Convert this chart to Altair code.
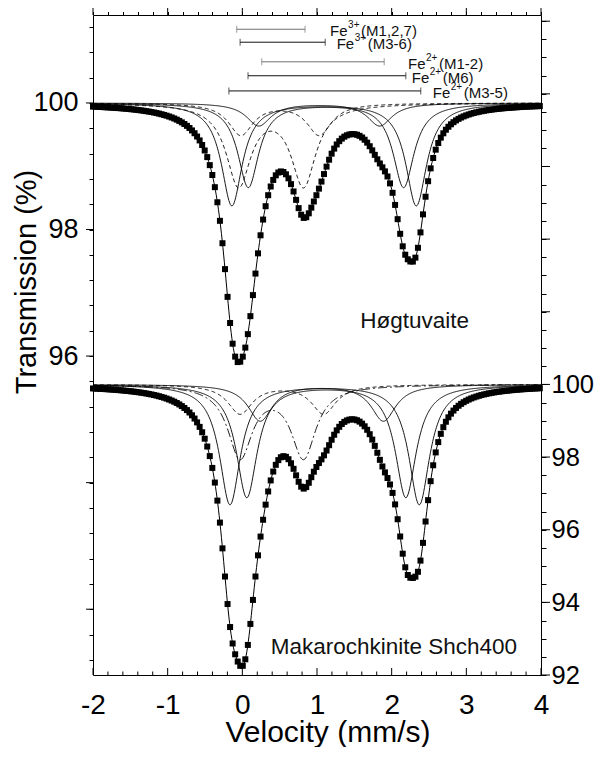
import altair as alt
import numpy as np
import pandas as pd

FONT = "Liberation Sans, Arial, sans-serif"

# ---- Lorentzian doublet parameters ----
comp_names = ["Fe3+ (M1,2,7)", "Fe3+ (M3-6)", "Fe2+ (M3-5)", "Fe2+ (M6)", "Fe2+ (M1-2)"]

top_baseline = 100.0
top_line1 = [-0.05, -0.02, -0.14, 0.08, 0.22]
top_line2 = [0.82, 1.03, 2.33, 2.16, 1.84]
top_depth = [1.28, 0.50, 1.62, 1.33, 0.36]
top_hwhm = [0.20, 0.20, 0.17, 0.17, 0.20]
top_style = ["dash", "dash", "solid", "solid", "solid"]

bot_baseline = 100.0
bot_line1 = [-0.03, -0.03, -0.165, 0.06, 0.24]
bot_line2 = [0.82, 1.09, 2.37, 2.19, 1.89]
bot_depth = [1.97, 0.80, 3.30, 3.10, 1.00]
bot_hwhm = [0.20, 0.20, 0.17, 0.17, 0.20]
bot_style = ["dashdot", "dash", "solid", "solid", "solid"]

channel_step = 0.034   # spacing of the measured points (mm/s)
curve_step = 0.01

# ---- quadrupole-splitting bars at the top ----
bar_start = [-0.075, -0.03, 0.26, 0.076, -0.18]
bar_end = [0.84, 1.11, 1.90, 2.19, 2.39]
bar_level = [101.165, 100.96, 100.65, 100.43, 100.19]
bar_color = ["#707070", "#111111", "#707070", "#111111", "#111111"]
bar_ion = ["Fe", "Fe", "Fe", "Fe", "Fe"]
bar_charge = ["3+", "3+", "2+", "2+", "2+"]
bar_site = ["(M1,2,7)", "(M3-6)", "(M1-2)", "(M6)", "(M3-5)"]
label_at = [1.175, 1.264, 2.219, 2.269, 2.55]

# ---- sample names ----
top_name = "Høgtuvaite"
top_name_pos = (1.58, 96.44)
bot_name = "Makarochkinite Shch400"
bot_name_pos = (0.38, 92.59)

# ---- tick values ----
x_vals = [round(-2 + 0.2 * i, 1) for i in range(31)]
x_major = [v for v in x_vals if abs(v - round(v)) < 1e-6]
x_minor = [v for v in x_vals if abs(v - round(v)) >= 1e-6]
yl_vals = [round(91.2 + 0.4 * i, 1) for i in range(26)]
yl_major = [92, 94, 96, 98, 100]
yr_vals = [round(92 + 0.5 * i, 1) for i in range(37)]
yr_major = [92, 94, 96, 98, 100, 102, 104, 106, 108, 110]


def lor(v, c, hw):
    return 1.0 / (1.0 + ((v - c) / hw) ** 2)


def build(base, l1, l2, dep, hw, style):
    vf = np.round(np.arange(-2.0, 4.0 + 1e-9, curve_step), 3)
    vc = np.round(np.arange(-2.0, 4.0 + 1e-9, channel_step), 3)
    comps = []
    tot_f = np.zeros_like(vf)
    tot_c = np.zeros_like(vc)
    for i in range(len(l1)):
        a = dep[i] * (lor(vf, l1[i], hw[i]) + lor(vf, l2[i], hw[i]))
        tot_f += a
        tot_c += dep[i] * (lor(vc, l1[i], hw[i]) + lor(vc, l2[i], hw[i]))
        comps.append(pd.DataFrame({"v": vf, "T": base - a, "comp": comp_names[i], "style": style[i]}))
    comp_df = pd.concat(comps, ignore_index=True)
    fit_df = pd.DataFrame({"v": vf, "T": base - tot_f})
    pts_df = pd.DataFrame({"v": vc, "T": base - tot_c})
    return comp_df, fit_df, pts_df


ctop, ftop, ptop = build(top_baseline, top_line1, top_line2, top_depth, top_hwhm, top_style)
cbot, fbot, pbot = build(bot_baseline, bot_line1, bot_line2, bot_depth, bot_hwhm, bot_style)

bars = pd.DataFrame({"start": bar_start, "end": bar_end, "level": bar_level, "color": bar_color,
                     "ion": bar_ion, "charge": bar_charge, "site": bar_site, "lab": label_at})
caps = pd.DataFrame({"v": bar_start + bar_end, "level": bar_level + bar_level, "color": bar_color + bar_color})

is_int = "abs(datum.value - round(datum.value)) < 0.001"
is_even = "abs(datum.value / 2 - round(datum.value / 2)) < 0.001"

W, H = 448, 660
xs = alt.Scale(domain=[-2, 4], nice=False, zero=False)
yls = alt.Scale(domain=[90.96, 101.39], nice=False, zero=False)
yrs = alt.Scale(domain=[92.0, 110.17], nice=False, zero=False)

common = dict(labelFont=FONT, titleFont=FONT, labelColor="black", titleColor="black",
              domainColor="black", tickColor="black", grid=False, labelFlush=False,
              labelOverlap=False, labelBound=False, titleFontWeight="normal")

ax_bottom = alt.Axis(orient="bottom", values=x_vals, labelFontSize=28,
                     labelExpr=f"{is_int} ? toString(round(datum.value)) : ''",
                     tickSize=0, labelPadding=16,
                     title="Velocity (mm/s)", titleFontSize=30, titleX=234.5, titleY=42,
                     titleAlign="center", titleBaseline="top", **common)
ax_top = alt.Axis(orient="top", values=x_vals, labels=False, title=None, tickSize=3.5, **common)
ax_left = alt.Axis(orient="left", values=yl_vals, labelFontSize=27,
                   labelExpr=f"datum.value > 95.9 && {is_even} ? toString(round(datum.value)) : ''",
                   tickSize=4, labelPadding=11, title="Transmission (%)", titleFontSize=29,
                   titleX=-57.5, titleY=266.5, titleAngle=270, titleAlign="center",
                   titleBaseline="alphabetic", **common)
ax_right = alt.Axis(orient="right", values=yr_vals, labelFontSize=25.5,
                    labelExpr=f"datum.value < 100.1 && {is_even} ? toString(round(datum.value)) : ''",
                    tickSize=5, labelPadding=5, title=None, **common)


def X(field, axis):
    return alt.X(f"{field}:Q", scale=xs, axis=axis)


def YL(field):
    return alt.Y(f"{field}:Q", scale=yls, axis=ax_left)


def YR(field):
    return alt.Y(f"{field}:Q", scale=yrs, axis=ax_right)


# ---- upper spectrum (left scale) ----
t_pts = alt.Chart(ptop).mark_square(size=36, color="black", opacity=1).encode(x=X("v", ax_top), y=YL("T"))
t_fit = alt.Chart(ftop).mark_line(color="black", strokeWidth=1).encode(x=X("v", ax_top), y=YL("T"))
t_solid = alt.Chart(ctop[ctop["style"] == "solid"]).mark_line(color="black", strokeWidth=0.9).encode(
    x=X("v", ax_top), y=YL("T"), detail="comp:N")
t_dash = alt.Chart(ctop[ctop["style"] == "dash"]).mark_line(color="black", strokeWidth=0.9, strokeDash=[4, 3]).encode(
    x=X("v", ax_top), y=YL("T"), detail="comp:N")
t_bars = alt.Chart(bars).mark_rule(strokeWidth=1).encode(
    x=X("start", ax_top), x2="end:Q", y=YL("level"), color=alt.Color("color:N", scale=None))
t_caps = alt.Chart(caps).mark_tick(orient="vertical", size=7, thickness=1).encode(
    x=X("v", ax_top), y=YL("level"), color=alt.Color("color:N", scale=None))
t_ion = alt.Chart(bars).mark_text(align="left", baseline="middle", dy=2, font=FONT, fontSize=15, color="#111").encode(
    x=X("lab", ax_top), y=YL("level"), text="ion:N")
t_chg = alt.Chart(bars).mark_text(align="left", baseline="middle", dx=18, dy=-4, font=FONT, fontSize=10, color="#111").encode(
    x=X("lab", ax_top), y=YL("level"), text="charge:N")
t_site = alt.Chart(bars).mark_text(align="left", baseline="middle", dx=31, dy=2, font=FONT, fontSize=15, color="#111").encode(
    x=X("lab", ax_top), y=YL("level"), text="site:N")
t_name = alt.Chart(pd.DataFrame({"v": [top_name_pos[0]], "T": [top_name_pos[1]], "t": [top_name]})).mark_text(
    align="left", baseline="alphabetic", font=FONT, fontSize=22.5, color="#111").encode(
    x=X("v", ax_top), y=YL("T"), text="t:N")
# longer major ticks: top velocity axis and left transmission axis
t_tx = alt.Chart(pd.DataFrame({"v": x_major})).mark_rule(color="black", strokeWidth=1).encode(
    x=X("v", ax_top), y=alt.value(0), y2=alt.value(-7))
t_ty = alt.Chart(pd.DataFrame({"T": yl_major})).mark_rule(color="black", strokeWidth=1).encode(
    y=YL("T"), x=alt.value(0), x2=alt.value(-7))

upper = alt.layer(t_pts, t_fit, t_solid, t_dash, t_bars, t_caps, t_ion, t_chg, t_site, t_name, t_tx, t_ty)

# ---- lower spectrum (right scale) ----
b_pts = alt.Chart(pbot).mark_square(size=36, color="black", opacity=1).encode(x=X("v", ax_bottom), y=YR("T"))
b_fit = alt.Chart(fbot).mark_line(color="black", strokeWidth=1).encode(x=X("v", ax_bottom), y=YR("T"))
b_solid = alt.Chart(cbot[cbot["style"] == "solid"]).mark_line(color="black", strokeWidth=0.9).encode(
    x=X("v", ax_bottom), y=YR("T"), detail="comp:N")
b_dash = alt.Chart(cbot[cbot["style"] == "dash"]).mark_line(color="black", strokeWidth=0.9, strokeDash=[4, 3]).encode(
    x=X("v", ax_bottom), y=YR("T"), detail="comp:N")
b_dashdot = alt.Chart(cbot[cbot["style"] == "dashdot"]).mark_line(color="black", strokeWidth=0.9, strokeDash=[9, 3, 2, 3]).encode(
    x=X("v", ax_bottom), y=YR("T"), detail="comp:N")
b_name = alt.Chart(pd.DataFrame({"v": [bot_name_pos[0]], "T": [bot_name_pos[1]], "t": [bot_name]})).mark_text(
    align="left", baseline="alphabetic", font=FONT, fontSize=22.5, color="#111").encode(
    x=X("v", ax_bottom), y=YR("T"), text="t:N")
# inward ticks of the bottom velocity axis, longer major ticks of the right axis
b_tmaj = alt.Chart(pd.DataFrame({"v": x_major})).mark_rule(color="black", strokeWidth=1).encode(
    x=X("v", ax_bottom), y=alt.value(H), y2=alt.value(H - 7))
b_tmin = alt.Chart(pd.DataFrame({"v": x_minor})).mark_rule(color="black", strokeWidth=1).encode(
    x=X("v", ax_bottom), y=alt.value(H), y2=alt.value(H - 3.5))
b_ty = alt.Chart(pd.DataFrame({"T": yr_major})).mark_rule(color="black", strokeWidth=1).encode(
    y=YR("T"), x=alt.value(W), x2=alt.value(W + 9))

lower = alt.layer(b_pts, b_fit, b_solid, b_dash, b_dashdot, b_name, b_tmaj, b_tmin, b_ty)

chart = alt.layer(upper, lower).resolve_scale(y="independent").resolve_axis(x="independent").properties(
    width=W, height=H,
    autosize=alt.AutoSizeParams(type="none"),
    padding={"left": 85, "top": 7, "right": 54, "bottom": 72},
).configure_view(stroke=None)

chart.save("out.html", embed_options={"renderer": "svg", "actions": False})
